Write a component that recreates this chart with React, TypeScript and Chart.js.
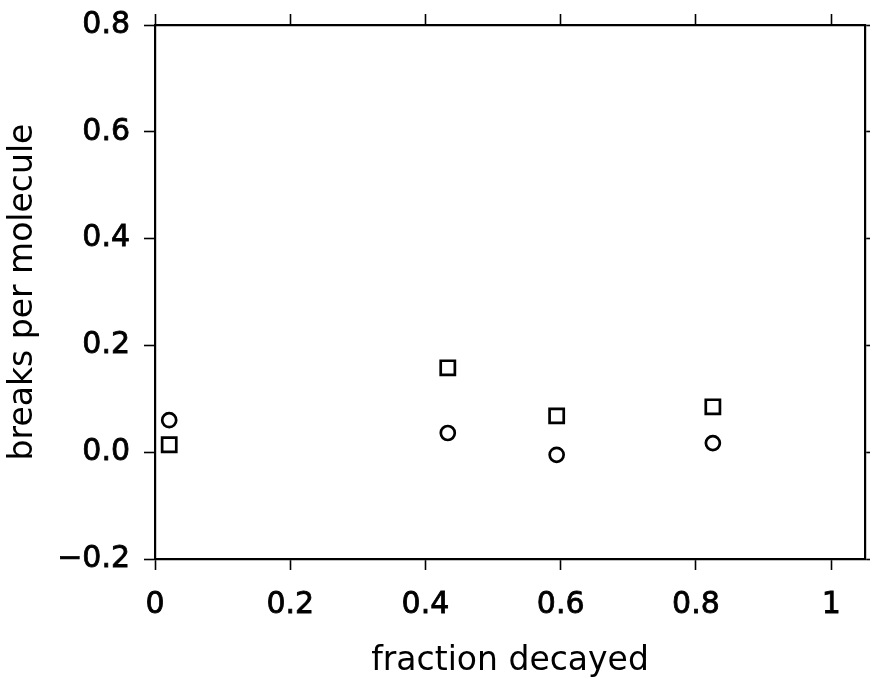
import React, { useEffect, useRef } from 'react';
import { Chart, registerables } from 'chart.js';

Chart.register(...registerables);

// ---- data ----
const fractionDecayed = [0.021, 0.433, 0.594, 0.825];
const circleBreaks = [0.06, 0.036, -0.005, 0.017];
const squareBreaks = [0.014, 0.158, 0.068, 0.085];

const xTickValues = [0, 0.2, 0.4, 0.6, 0.8, 1];
const xTickLabels = ['0', '0.2', '0.4', '0.6', '0.8', '1'];
const yTickValues = [-0.2, 0, 0.2, 0.4, 0.6, 0.8];
const yTickLabels = ['\u22120.2', '0.0', '0.2', '0.4', '0.6', '0.8'];

const xTitle = 'fraction decayed';
const yTitle = 'breaks per molecule';

const FONT = "'DejaVu Sans', sans-serif";

function labelFor(values: number[], labels: string[], v: number): string {
  const i = values.findIndex((t) => Math.abs(t - v) < 1e-9);
  return i >= 0 ? labels[i] : '';
}

function fixSize(prop: 'width' | 'height', size: number) {
  return (scale: any) => {
    scale[prop] = size;
    scale.paddingTop = 0;
    scale.paddingBottom = 0;
    scale.paddingLeft = 0;
    scale.paddingRight = 0;
  };
}

export default function App() {
  const ref = useRef<HTMLCanvasElement | null>(null);

  useEffect(() => {
    document.body.style.margin = '0';
    const canvas = ref.current;
    if (!canvas) return;

    const toPoints = (ys: number[]) => fractionDecayed.map((x, i) => ({ x, y: ys[i] }));

    const grid = {
      drawOnChartArea: false,
      drawTicks: true,
      tickLength: 11,
      tickColor: '#000',
      tickWidth: 1.6,
      color: '#000',
    };
    const border = { display: true, color: '#000', width: 2.2 };

    const tickFont = { family: FONT, size: 30 };
    const titleFont = { family: FONT, size: 33 };

    const chart = new Chart(canvas, {
      type: 'scatter',
      data: {
        datasets: [
          {
            label: 'circles',
            data: toPoints(circleBreaks),
            pointStyle: 'circle',
            pointRadius: 7,
            pointBorderWidth: 2.7,
            borderColor: '#000',
            backgroundColor: 'rgba(255,255,255,0)',
            pointBackgroundColor: 'rgba(255,255,255,0)',
            pointBorderColor: '#000',
          },
          {
            label: 'squares',
            data: toPoints(squareBreaks),
            pointStyle: 'rect',
            pointRadius: 10,
            pointBorderWidth: 2.7,
            borderColor: '#000',
            backgroundColor: 'rgba(255,255,255,0)',
            pointBackgroundColor: 'rgba(255,255,255,0)',
            pointBorderColor: '#000',
          },
        ],
      },
      options: {
        animation: false,
        responsive: true,
        maintainAspectRatio: false,
        layout: { padding: 0, autoPadding: false },
        plugins: {
          legend: { display: false },
          tooltip: { enabled: false },
        },
        scales: {
          x: {
            type: 'linear',
            position: 'bottom',
            min: 0,
            max: 1.05,
            afterBuildTicks: (scale: any) => {
              scale.ticks = xTickValues.map((v) => ({ value: v }));
            },
            afterFit: fixSize('height', 118),
            ticks: {
              color: '#000',
              font: tickFont,
              padding: 17,
              maxRotation: 0,
              autoSkip: false,
              textStrokeColor: '#000',
              textStrokeWidth: 0.8,
              callback: (v: any) => labelFor(xTickValues, xTickLabels, Number(v)),
            },
            grid,
            border,
            title: {
              display: true,
              text: xTitle,
              color: '#000',
              font: titleFont,
              padding: { top: 0, bottom: -4 },
            },
          },
          x2: {
            type: 'linear',
            position: 'top',
            min: 0,
            max: 1.05,
            afterBuildTicks: (scale: any) => {
              scale.ticks = xTickValues.map((v) => ({ value: v }));
            },
            afterFit: fixSize('height', 25),
            ticks: { display: false },
            grid,
            border,
          },
          y: {
            type: 'linear',
            position: 'left',
            min: -0.2,
            max: 0.8,
            afterBuildTicks: (scale: any) => {
              scale.ticks = yTickValues.map((v) => ({ value: v }));
            },
            afterFit: fixSize('width', 155),
            ticks: {
              color: '#000',
              font: tickFont,
              padding: 14,
              autoSkip: false,
              textStrokeColor: '#000',
              textStrokeWidth: 0.8,
              callback: (v: any) => labelFor(yTickValues, yTickLabels, Number(v)),
            },
            grid,
            border,
            title: {
              display: true,
              text: yTitle,
              color: '#000',
              font: titleFont,
              padding: { top: 4, bottom: 0 },
            },
          },
          y2: {
            type: 'linear',
            position: 'right',
            min: -0.2,
            max: 0.8,
            afterBuildTicks: (scale: any) => {
              scale.ticks = yTickValues.map((v) => ({ value: v }));
            },
            afterFit: fixSize('width', 5),
            ticks: { display: false },
            grid,
            border,
          },
        },
      } as any,
    });

    return () => chart.destroy();
  }, []);

  return (
    <div style={{ width: 870, height: 677, position: 'relative', background: '#fff' }}>
      <canvas ref={ref} />
    </div>
  );
}
